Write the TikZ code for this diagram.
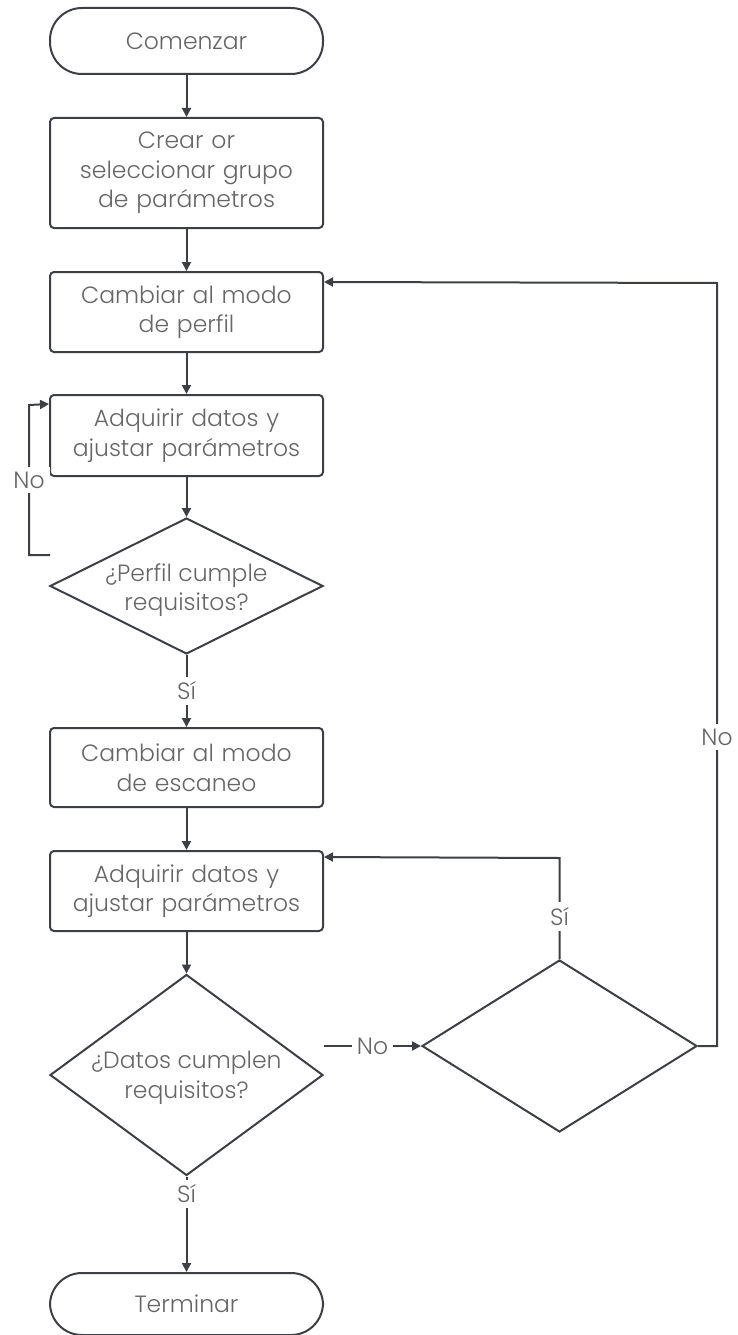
\documentclass[tikz,border=0pt]{standalone}
\usepackage{fontspec}
\setmainfont{Poppins Light}
\usetikzlibrary{arrows.meta,shapes.geometric,calc}
\definecolor{lc}{HTML}{3C3F44}
\definecolor{tc}{HTML}{666666}
\begin{document}
\begin{tikzpicture}[x=1pt,y=-1pt,
  fnt/.style={font=\fontsize{23.5}{29.5}\selectfont},
  conn/.style={draw=lc, line width=2pt},
  arr/.style={conn, -{Triangle[length=9pt,width=9pt]}},
  box/.style={rectangle, rounded corners=4pt, draw=lc, line width=2pt,
    minimum width=273pt, text width=265pt, align=center, inner sep=0pt, fnt, text=tc},
  term/.style={rectangle, rounded corners=32pt, draw=lc, line width=2pt,
    minimum width=273pt, align=center, inner sep=0pt, fnt, text=tc},
  dia/.style={diamond, draw=lc, line width=2pt, inner sep=0pt},
  txt/.style={align=center, fnt, text=tc, inner sep=0pt},
  lbl/.style={fill=white, inner sep=5pt, fnt, text=tc}
]
\useasboundingbox (0,0) rectangle (737,1335);

\node[term, minimum height=66pt] (start) at (186.5,41) {Comenzar};
\node[box, minimum height=110pt] (b1) at (186.5,173) {Crear or\\seleccionar grupo\\de parámetros};
\node[box, minimum height=80pt] (b2) at (186.5,312) {Cambiar al modo\\de perfil};
\node[box, minimum height=81pt] (b3) at (186.5,435.5) {Adquirir datos y\\ajustar parámetros};
\node[dia, minimum width=273pt, minimum height=136pt] (d1) at (186.5,586) {};
\node[txt] (d1t) at (186.5,590) {¿Perfil cumple\\requisitos?};
\node[box, minimum height=79pt] (b4) at (186.5,767.5) {Cambiar al modo\\de escaneo};
\node[box, minimum height=80pt] (b5) at (186.5,891) {Adquirir datos y\\ajustar parámetros};
\node[dia, minimum width=273pt, minimum height=201pt] (d2) at (186.5,1075) {};
\node[txt] (d2t) at (186.5,1078) {¿Datos cumplen\\requisitos?};
\node[dia, minimum width=275pt, minimum height=172pt] (d3) at (559.5,1046) {};
\node[term, minimum height=62pt] (end) at (186.5,1304) {Terminar};

\coordinate (l1) at (50,555);
\coordinate (l2) at (29,555);
\coordinate (l3) at (29,405);
\coordinate (s1) at (559.5,858);
\coordinate (r1) at (717,1046);
\coordinate (r2) at (717,283);
\coordinate (n0) at (d2.east |- d3.west);

\draw[arr] (start) -- (b1);
\draw[arr] (b1) -- (b2);
\draw[arr] (b2) -- (b3);
\draw[arr] (b3) -- (d1.north);
\draw[arr] (d1.south) -- node[lbl]{Sí} (b4.north);
\draw[arr] (l1) -- (l2) -- node[lbl]{No} (l3) -- ($(b3.north west)+(0,10)$);
\draw[arr] (b4) -- (b5);
\draw[arr] (b5) -- (d2.north);
\draw[arr] (d2.south) -- node[lbl, pos=0.18]{Sí} (end.north);
\draw[arr] (n0) -- node[lbl]{No} (d3.west);
\draw[arr] (d3.north) -- node[lbl, pos=0.42]{Sí} (s1) -- ($(b5.north east)+(0,7)$);
\draw[arr] (d3.east) -- (r1) -- node[lbl, pos=0.405]{No} (r2) -- ($(b2.north east)+(0,11)$);
\end{tikzpicture}
\end{document}
